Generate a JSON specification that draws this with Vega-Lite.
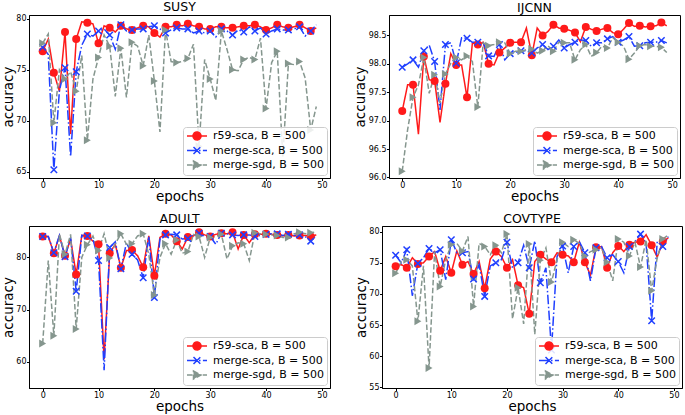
{
"$schema":"https://vega.github.io/schema/vega-lite/v6.json",
"padding":{"left":0,"top":0,"right":0,"bottom":0},
"background":"white",
"config":{"font":"DejaVu Sans","view":{"stroke":"#000","strokeWidth":1},
"axis":{"labelFont":"DejaVu Sans","titleFont":"DejaVu Sans","labelFontSize":8,"titleFontSize":13.5,"titleFontWeight":"normal","labelColor":"#000","titleColor":"#000","tickColor":"#000","domainColor":"#000","tickSize":2.5,"labelPadding":0.5,"titlePadding":0.5,"grid":false},
"title":{"font":"DejaVu Sans","fontSize":12.5,"fontWeight":"normal","offset":1,"color":"#000"},
"legend":{"title":null,"orient":"bottom-right","offset":3,"padding":3,"fillColor":"rgba(255,255,255,0.85)","strokeColor":"#cccccc","cornerRadius":3,"labelFont":"DejaVu Sans","labelFontSize":11,"labelColor":"#000","symbolSize":100,"symbolStrokeWidth":1.5,"rowPadding":0.5,"labelOffset":15}},
"datasets":{
"SUSY":[
{"series":"r59-sca","epoch":0,"acc":76.8},{"series":"r59-sca","epoch":1,"acc":78.0},{"series":"r59-sca","epoch":2,"acc":74.7},{"series":"r59-sca","epoch":3,"acc":72.9},{"series":"r59-sca","epoch":4,"acc":78.7},{"series":"r59-sca","epoch":5,"acc":68.7},{"series":"r59-sca","epoch":6,"acc":78.0},{"series":"r59-sca","epoch":7,"acc":79.7},{"series":"r59-sca","epoch":8,"acc":79.6},{"series":"r59-sca","epoch":9,"acc":79.5},
{"series":"r59-sca","epoch":10,"acc":77.6},{"series":"r59-sca","epoch":11,"acc":79.3},{"series":"r59-sca","epoch":12,"acc":79.1},{"series":"r59-sca","epoch":13,"acc":78.7},{"series":"r59-sca","epoch":14,"acc":79.3},{"series":"r59-sca","epoch":15,"acc":79.0},{"series":"r59-sca","epoch":16,"acc":78.9},{"series":"r59-sca","epoch":17,"acc":79.1},{"series":"r59-sca","epoch":18,"acc":79.3},{"series":"r59-sca","epoch":19,"acc":79.2},
{"series":"r59-sca","epoch":20,"acc":78.6},{"series":"r59-sca","epoch":21,"acc":78.2},{"series":"r59-sca","epoch":22,"acc":79.2},{"series":"r59-sca","epoch":23,"acc":79.2},{"series":"r59-sca","epoch":24,"acc":79.4},{"series":"r59-sca","epoch":25,"acc":79.3},{"series":"r59-sca","epoch":26,"acc":79.5},{"series":"r59-sca","epoch":27,"acc":79.3},{"series":"r59-sca","epoch":28,"acc":79.2},{"series":"r59-sca","epoch":29,"acc":79.0},
{"series":"r59-sca","epoch":30,"acc":79.0},{"series":"r59-sca","epoch":31,"acc":79.2},{"series":"r59-sca","epoch":32,"acc":79.2},{"series":"r59-sca","epoch":33,"acc":79.1},{"series":"r59-sca","epoch":34,"acc":79.1},{"series":"r59-sca","epoch":35,"acc":79.2},{"series":"r59-sca","epoch":36,"acc":79.3},{"series":"r59-sca","epoch":37,"acc":79.3},{"series":"r59-sca","epoch":38,"acc":79.4},{"series":"r59-sca","epoch":39,"acc":79.2},
{"series":"r59-sca","epoch":40,"acc":78.9},{"series":"r59-sca","epoch":41,"acc":79.1},{"series":"r59-sca","epoch":42,"acc":79.4},{"series":"r59-sca","epoch":43,"acc":79.2},{"series":"r59-sca","epoch":44,"acc":79.1},{"series":"r59-sca","epoch":45,"acc":79.2},{"series":"r59-sca","epoch":46,"acc":79.4},{"series":"r59-sca","epoch":47,"acc":79.1},{"series":"r59-sca","epoch":48,"acc":78.8},{"series":"r59-sca","epoch":49,"acc":79.1},
{"series":"merge-sca","epoch":0,"acc":77.2},{"series":"merge-sca","epoch":1,"acc":76.5},{"series":"merge-sca","epoch":2,"acc":65.2},{"series":"merge-sca","epoch":3,"acc":73.0},{"series":"merge-sca","epoch":4,"acc":75.2},{"series":"merge-sca","epoch":5,"acc":66.5},{"series":"merge-sca","epoch":6,"acc":74.8},{"series":"merge-sca","epoch":7,"acc":77.4},{"series":"merge-sca","epoch":8,"acc":78.5},{"series":"merge-sca","epoch":9,"acc":78.3},
{"series":"merge-sca","epoch":10,"acc":78.8},{"series":"merge-sca","epoch":11,"acc":79.0},{"series":"merge-sca","epoch":12,"acc":78.4},{"series":"merge-sca","epoch":13,"acc":77.0},{"series":"merge-sca","epoch":14,"acc":79.4},{"series":"merge-sca","epoch":15,"acc":78.8},{"series":"merge-sca","epoch":16,"acc":78.9},{"series":"merge-sca","epoch":17,"acc":79.0},{"series":"merge-sca","epoch":18,"acc":79.0},{"series":"merge-sca","epoch":19,"acc":79.2},
{"series":"merge-sca","epoch":20,"acc":79.3},{"series":"merge-sca","epoch":21,"acc":79.0},{"series":"merge-sca","epoch":22,"acc":78.6},{"series":"merge-sca","epoch":23,"acc":78.9},{"series":"merge-sca","epoch":24,"acc":79.1},{"series":"merge-sca","epoch":25,"acc":79.0},{"series":"merge-sca","epoch":26,"acc":79.0},{"series":"merge-sca","epoch":27,"acc":78.6},{"series":"merge-sca","epoch":28,"acc":78.8},{"series":"merge-sca","epoch":29,"acc":78.6},
{"series":"merge-sca","epoch":30,"acc":78.8},{"series":"merge-sca","epoch":31,"acc":78.2},{"series":"merge-sca","epoch":32,"acc":79.0},{"series":"merge-sca","epoch":33,"acc":78.8},{"series":"merge-sca","epoch":34,"acc":78.4},{"series":"merge-sca","epoch":35,"acc":78.9},{"series":"merge-sca","epoch":36,"acc":78.7},{"series":"merge-sca","epoch":37,"acc":79.2},{"series":"merge-sca","epoch":38,"acc":78.8},{"series":"merge-sca","epoch":39,"acc":79.1},
{"series":"merge-sca","epoch":40,"acc":78.5},{"series":"merge-sca","epoch":41,"acc":78.8},{"series":"merge-sca","epoch":42,"acc":79.0},{"series":"merge-sca","epoch":43,"acc":78.9},{"series":"merge-sca","epoch":44,"acc":78.9},{"series":"merge-sca","epoch":45,"acc":79.0},{"series":"merge-sca","epoch":46,"acc":79.2},{"series":"merge-sca","epoch":47,"acc":78.3},{"series":"merge-sca","epoch":48,"acc":78.8},{"series":"merge-sca","epoch":49,"acc":79.4},
{"series":"merge-sgd","epoch":0,"acc":77.6},{"series":"merge-sgd","epoch":1,"acc":78.5},{"series":"merge-sgd","epoch":2,"acc":69.8},{"series":"merge-sgd","epoch":3,"acc":75.0},{"series":"merge-sgd","epoch":4,"acc":74.1},{"series":"merge-sgd","epoch":5,"acc":74.8},{"series":"merge-sgd","epoch":6,"acc":72.9},{"series":"merge-sgd","epoch":7,"acc":76.4},{"series":"merge-sgd","epoch":8,"acc":68.1},{"series":"merge-sgd","epoch":9,"acc":74.1},
{"series":"merge-sgd","epoch":10,"acc":76.2},{"series":"merge-sgd","epoch":11,"acc":78.4},{"series":"merge-sgd","epoch":12,"acc":77.3},{"series":"merge-sgd","epoch":13,"acc":72.4},{"series":"merge-sgd","epoch":14,"acc":77.1},{"series":"merge-sgd","epoch":15,"acc":72.3},{"series":"merge-sgd","epoch":16,"acc":77.7},{"series":"merge-sgd","epoch":17,"acc":77.3},{"series":"merge-sgd","epoch":18,"acc":75.4},{"series":"merge-sgd","epoch":19,"acc":78.4},
{"series":"merge-sgd","epoch":20,"acc":73.9},{"series":"merge-sgd","epoch":21,"acc":68.9},{"series":"merge-sgd","epoch":22,"acc":78.9},{"series":"merge-sgd","epoch":23,"acc":75.8},{"series":"merge-sgd","epoch":24,"acc":75.7},{"series":"merge-sgd","epoch":25,"acc":75.8},{"series":"merge-sgd","epoch":26,"acc":76.1},{"series":"merge-sgd","epoch":27,"acc":77.5},{"series":"merge-sgd","epoch":28,"acc":67.5},{"series":"merge-sgd","epoch":29,"acc":76.0},
{"series":"merge-sgd","epoch":30,"acc":74.1},{"series":"merge-sgd","epoch":31,"acc":72.0},{"series":"merge-sgd","epoch":32,"acc":78.8},{"series":"merge-sgd","epoch":33,"acc":77.0},{"series":"merge-sgd","epoch":34,"acc":75.0},{"series":"merge-sgd","epoch":35,"acc":74.9},{"series":"merge-sgd","epoch":36,"acc":76.0},{"series":"merge-sgd","epoch":37,"acc":76.2},{"series":"merge-sgd","epoch":38,"acc":76.0},{"series":"merge-sgd","epoch":39,"acc":78.1},
{"series":"merge-sgd","epoch":40,"acc":71.2},{"series":"merge-sgd","epoch":41,"acc":75.7},{"series":"merge-sgd","epoch":42,"acc":76.8},{"series":"merge-sgd","epoch":43,"acc":66.5},{"series":"merge-sgd","epoch":44,"acc":75.6},{"series":"merge-sgd","epoch":45,"acc":75.5},{"series":"merge-sgd","epoch":46,"acc":75.8},{"series":"merge-sgd","epoch":47,"acc":74.2},{"series":"merge-sgd","epoch":48,"acc":69.1},{"series":"merge-sgd","epoch":49,"acc":71.4}
],
"IJCNN":[
{"series":"r59-sca","epoch":0,"acc":97.17},{"series":"r59-sca","epoch":1,"acc":97.63},{"series":"r59-sca","epoch":2,"acc":97.63},{"series":"r59-sca","epoch":3,"acc":96.76},{"series":"r59-sca","epoch":4,"acc":98.13},{"series":"r59-sca","epoch":5,"acc":97.72},{"series":"r59-sca","epoch":6,"acc":97.7},{"series":"r59-sca","epoch":7,"acc":96.97},{"series":"r59-sca","epoch":8,"acc":97.65},{"series":"r59-sca","epoch":9,"acc":98.18},
{"series":"r59-sca","epoch":10,"acc":97.98},{"series":"r59-sca","epoch":11,"acc":97.98},{"series":"r59-sca","epoch":12,"acc":97.41},{"series":"r59-sca","epoch":13,"acc":98.37},{"series":"r59-sca","epoch":14,"acc":98.34},{"series":"r59-sca","epoch":15,"acc":98.38},{"series":"r59-sca","epoch":16,"acc":98.0},{"series":"r59-sca","epoch":17,"acc":97.98},{"series":"r59-sca","epoch":18,"acc":98.2},{"series":"r59-sca","epoch":19,"acc":98.28},
{"series":"r59-sca","epoch":20,"acc":98.37},{"series":"r59-sca","epoch":21,"acc":98.38},{"series":"r59-sca","epoch":22,"acc":98.38},{"series":"r59-sca","epoch":23,"acc":98.63},{"series":"r59-sca","epoch":24,"acc":98.15},{"series":"r59-sca","epoch":25,"acc":98.63},{"series":"r59-sca","epoch":26,"acc":98.5},{"series":"r59-sca","epoch":27,"acc":98.57},{"series":"r59-sca","epoch":28,"acc":98.69},{"series":"r59-sca","epoch":29,"acc":98.63},
{"series":"r59-sca","epoch":30,"acc":98.62},{"series":"r59-sca","epoch":31,"acc":98.59},{"series":"r59-sca","epoch":32,"acc":98.55},{"series":"r59-sca","epoch":33,"acc":98.39},{"series":"r59-sca","epoch":34,"acc":98.65},{"series":"r59-sca","epoch":35,"acc":98.61},{"series":"r59-sca","epoch":36,"acc":98.58},{"series":"r59-sca","epoch":37,"acc":98.61},{"series":"r59-sca","epoch":38,"acc":98.63},{"series":"r59-sca","epoch":39,"acc":98.55},
{"series":"r59-sca","epoch":40,"acc":98.52},{"series":"r59-sca","epoch":41,"acc":98.61},{"series":"r59-sca","epoch":42,"acc":98.72},{"series":"r59-sca","epoch":43,"acc":98.66},{"series":"r59-sca","epoch":44,"acc":98.67},{"series":"r59-sca","epoch":45,"acc":98.65},{"series":"r59-sca","epoch":46,"acc":98.66},{"series":"r59-sca","epoch":47,"acc":98.67},{"series":"r59-sca","epoch":48,"acc":98.73},{"series":"r59-sca","epoch":49,"acc":98.67},
{"series":"merge-sca","epoch":0,"acc":97.94},{"series":"merge-sca","epoch":1,"acc":98.0},{"series":"merge-sca","epoch":2,"acc":98.07},{"series":"merge-sca","epoch":3,"acc":97.94},{"series":"merge-sca","epoch":4,"acc":98.23},{"series":"merge-sca","epoch":5,"acc":98.33},{"series":"merge-sca","epoch":6,"acc":98.04},{"series":"merge-sca","epoch":7,"acc":97.19},{"series":"merge-sca","epoch":8,"acc":98.34},{"series":"merge-sca","epoch":9,"acc":98.37},
{"series":"merge-sca","epoch":10,"acc":98.01},{"series":"merge-sca","epoch":11,"acc":98.46},{"series":"merge-sca","epoch":12,"acc":98.45},{"series":"merge-sca","epoch":13,"acc":98.38},{"series":"merge-sca","epoch":14,"acc":98.38},{"series":"merge-sca","epoch":15,"acc":98.37},{"series":"merge-sca","epoch":16,"acc":98.14},{"series":"merge-sca","epoch":17,"acc":98.13},{"series":"merge-sca","epoch":18,"acc":98.34},{"series":"merge-sca","epoch":19,"acc":98.07},
{"series":"merge-sca","epoch":20,"acc":98.18},{"series":"merge-sca","epoch":21,"acc":98.2},{"series":"merge-sca","epoch":22,"acc":98.23},{"series":"merge-sca","epoch":23,"acc":98.23},{"series":"merge-sca","epoch":24,"acc":98.19},{"series":"merge-sca","epoch":25,"acc":98.28},{"series":"merge-sca","epoch":26,"acc":98.34},{"series":"merge-sca","epoch":27,"acc":98.25},{"series":"merge-sca","epoch":28,"acc":98.31},{"series":"merge-sca","epoch":29,"acc":98.42},
{"series":"merge-sca","epoch":30,"acc":98.28},{"series":"merge-sca","epoch":31,"acc":98.34},{"series":"merge-sca","epoch":32,"acc":98.38},{"series":"merge-sca","epoch":33,"acc":98.42},{"series":"merge-sca","epoch":34,"acc":98.41},{"series":"merge-sca","epoch":35,"acc":98.31},{"series":"merge-sca","epoch":36,"acc":98.37},{"series":"merge-sca","epoch":37,"acc":98.37},{"series":"merge-sca","epoch":38,"acc":98.44},{"series":"merge-sca","epoch":39,"acc":98.48},
{"series":"merge-sca","epoch":40,"acc":98.38},{"series":"merge-sca","epoch":41,"acc":98.42},{"series":"merge-sca","epoch":42,"acc":98.48},{"series":"merge-sca","epoch":43,"acc":98.31},{"series":"merge-sca","epoch":44,"acc":98.32},{"series":"merge-sca","epoch":45,"acc":98.37},{"series":"merge-sca","epoch":46,"acc":98.38},{"series":"merge-sca","epoch":47,"acc":98.38},{"series":"merge-sca","epoch":48,"acc":98.41},{"series":"merge-sca","epoch":49,"acc":98.37},
{"series":"merge-sgd","epoch":0,"acc":96.11},{"series":"merge-sgd","epoch":1,"acc":96.84},{"series":"merge-sgd","epoch":2,"acc":97.41},{"series":"merge-sgd","epoch":3,"acc":97.63},{"series":"merge-sgd","epoch":4,"acc":98.11},{"series":"merge-sgd","epoch":5,"acc":97.48},{"series":"merge-sgd","epoch":6,"acc":97.81},{"series":"merge-sgd","epoch":7,"acc":97.31},{"series":"merge-sgd","epoch":8,"acc":97.82},{"series":"merge-sgd","epoch":9,"acc":98.01},
{"series":"merge-sgd","epoch":10,"acc":98.11},{"series":"merge-sgd","epoch":11,"acc":98.07},{"series":"merge-sgd","epoch":12,"acc":98.14},{"series":"merge-sgd","epoch":13,"acc":98.04},{"series":"merge-sgd","epoch":14,"acc":97.24},{"series":"merge-sgd","epoch":15,"acc":98.37},{"series":"merge-sgd","epoch":16,"acc":98.32},{"series":"merge-sgd","epoch":17,"acc":98.34},{"series":"merge-sgd","epoch":18,"acc":98.38},{"series":"merge-sgd","epoch":19,"acc":98.37},
{"series":"merge-sgd","epoch":20,"acc":98.18},{"series":"merge-sgd","epoch":21,"acc":98.22},{"series":"merge-sgd","epoch":22,"acc":98.22},{"series":"merge-sgd","epoch":23,"acc":98.25},{"series":"merge-sgd","epoch":24,"acc":98.26},{"series":"merge-sgd","epoch":25,"acc":98.19},{"series":"merge-sgd","epoch":26,"acc":98.23},{"series":"merge-sgd","epoch":27,"acc":98.32},{"series":"merge-sgd","epoch":28,"acc":98.22},{"series":"merge-sgd","epoch":29,"acc":98.38},
{"series":"merge-sgd","epoch":30,"acc":98.37},{"series":"merge-sgd","epoch":31,"acc":98.37},{"series":"merge-sgd","epoch":32,"acc":98.07},{"series":"merge-sgd","epoch":33,"acc":98.25},{"series":"merge-sgd","epoch":34,"acc":98.34},{"series":"merge-sgd","epoch":35,"acc":98.13},{"series":"merge-sgd","epoch":36,"acc":98.2},{"series":"merge-sgd","epoch":37,"acc":98.31},{"series":"merge-sgd","epoch":38,"acc":98.28},{"series":"merge-sgd","epoch":39,"acc":98.46},
{"series":"merge-sgd","epoch":40,"acc":98.38},{"series":"merge-sgd","epoch":41,"acc":98.31},{"series":"merge-sgd","epoch":42,"acc":98.08},{"series":"merge-sgd","epoch":43,"acc":98.19},{"series":"merge-sgd","epoch":44,"acc":98.32},{"series":"merge-sgd","epoch":45,"acc":98.34},{"series":"merge-sgd","epoch":46,"acc":98.31},{"series":"merge-sgd","epoch":47,"acc":98.31},{"series":"merge-sgd","epoch":48,"acc":98.29},{"series":"merge-sgd","epoch":49,"acc":98.2}
],
"ADULT":[
{"series":"r59-sca","epoch":0,"acc":84.0},{"series":"r59-sca","epoch":1,"acc":84.0},{"series":"r59-sca","epoch":2,"acc":80.8},{"series":"r59-sca","epoch":3,"acc":84.1},{"series":"r59-sca","epoch":4,"acc":80.3},{"series":"r59-sca","epoch":5,"acc":83.5},{"series":"r59-sca","epoch":6,"acc":76.7},{"series":"r59-sca","epoch":7,"acc":84.2},{"series":"r59-sca","epoch":8,"acc":84.1},{"series":"r59-sca","epoch":9,"acc":83.1},
{"series":"r59-sca","epoch":10,"acc":82.5},{"series":"r59-sca","epoch":11,"acc":60.5},{"series":"r59-sca","epoch":12,"acc":80.8},{"series":"r59-sca","epoch":13,"acc":82.5},{"series":"r59-sca","epoch":14,"acc":78.0},{"series":"r59-sca","epoch":15,"acc":81.3},{"series":"r59-sca","epoch":16,"acc":81.4},{"series":"r59-sca","epoch":17,"acc":80.3},{"series":"r59-sca","epoch":18,"acc":78.1},{"series":"r59-sca","epoch":19,"acc":84.1},
{"series":"r59-sca","epoch":20,"acc":76.5},{"series":"r59-sca","epoch":21,"acc":83.8},{"series":"r59-sca","epoch":22,"acc":84.5},{"series":"r59-sca","epoch":23,"acc":84.3},{"series":"r59-sca","epoch":24,"acc":83.1},{"series":"r59-sca","epoch":25,"acc":81.6},{"series":"r59-sca","epoch":26,"acc":83.9},{"series":"r59-sca","epoch":27,"acc":84.1},{"series":"r59-sca","epoch":28,"acc":84.8},{"series":"r59-sca","epoch":29,"acc":84.3},
{"series":"r59-sca","epoch":30,"acc":84.0},{"series":"r59-sca","epoch":31,"acc":84.4},{"series":"r59-sca","epoch":32,"acc":84.6},{"series":"r59-sca","epoch":33,"acc":84.5},{"series":"r59-sca","epoch":34,"acc":84.8},{"series":"r59-sca","epoch":35,"acc":81.6},{"series":"r59-sca","epoch":36,"acc":84.3},{"series":"r59-sca","epoch":37,"acc":82.8},{"series":"r59-sca","epoch":38,"acc":84.4},{"series":"r59-sca","epoch":39,"acc":84.4},
{"series":"r59-sca","epoch":40,"acc":84.5},{"series":"r59-sca","epoch":41,"acc":84.4},{"series":"r59-sca","epoch":42,"acc":84.3},{"series":"r59-sca","epoch":43,"acc":84.1},{"series":"r59-sca","epoch":44,"acc":84.3},{"series":"r59-sca","epoch":45,"acc":84.1},{"series":"r59-sca","epoch":46,"acc":84.2},{"series":"r59-sca","epoch":47,"acc":84.2},{"series":"r59-sca","epoch":48,"acc":84.0},{"series":"r59-sca","epoch":49,"acc":84.3},
{"series":"merge-sca","epoch":0,"acc":84.0},{"series":"merge-sca","epoch":1,"acc":84.0},{"series":"merge-sca","epoch":2,"acc":80.9},{"series":"merge-sca","epoch":3,"acc":84.2},{"series":"merge-sca","epoch":4,"acc":80.1},{"series":"merge-sca","epoch":5,"acc":83.8},{"series":"merge-sca","epoch":6,"acc":73.5},{"series":"merge-sca","epoch":7,"acc":84.2},{"series":"merge-sca","epoch":8,"acc":84.1},{"series":"merge-sca","epoch":9,"acc":83.5},
{"series":"merge-sca","epoch":10,"acc":79.4},{"series":"merge-sca","epoch":11,"acc":58.4},{"series":"merge-sca","epoch":12,"acc":81.9},{"series":"merge-sca","epoch":13,"acc":83.0},{"series":"merge-sca","epoch":14,"acc":77.8},{"series":"merge-sca","epoch":15,"acc":82.8},{"series":"merge-sca","epoch":16,"acc":80.6},{"series":"merge-sca","epoch":17,"acc":79.5},{"series":"merge-sca","epoch":18,"acc":76.1},{"series":"merge-sca","epoch":19,"acc":84.0},
{"series":"merge-sca","epoch":20,"acc":72.3},{"series":"merge-sca","epoch":21,"acc":83.5},{"series":"merge-sca","epoch":22,"acc":84.3},{"series":"merge-sca","epoch":23,"acc":84.4},{"series":"merge-sca","epoch":24,"acc":84.3},{"series":"merge-sca","epoch":25,"acc":83.5},{"series":"merge-sca","epoch":26,"acc":83.6},{"series":"merge-sca","epoch":27,"acc":84.3},{"series":"merge-sca","epoch":28,"acc":84.6},{"series":"merge-sca","epoch":29,"acc":84.0},
{"series":"merge-sca","epoch":30,"acc":84.0},{"series":"merge-sca","epoch":31,"acc":82.5},{"series":"merge-sca","epoch":32,"acc":84.6},{"series":"merge-sca","epoch":33,"acc":84.5},{"series":"merge-sca","epoch":34,"acc":84.3},{"series":"merge-sca","epoch":35,"acc":84.2},{"series":"merge-sca","epoch":36,"acc":84.3},{"series":"merge-sca","epoch":37,"acc":84.3},{"series":"merge-sca","epoch":38,"acc":84.0},{"series":"merge-sca","epoch":39,"acc":84.2},
{"series":"merge-sca","epoch":40,"acc":84.4},{"series":"merge-sca","epoch":41,"acc":84.5},{"series":"merge-sca","epoch":42,"acc":84.5},{"series":"merge-sca","epoch":43,"acc":84.2},{"series":"merge-sca","epoch":44,"acc":84.4},{"series":"merge-sca","epoch":45,"acc":84.2},{"series":"merge-sca","epoch":46,"acc":84.3},{"series":"merge-sca","epoch":47,"acc":84.0},{"series":"merge-sca","epoch":48,"acc":83.1},{"series":"merge-sca","epoch":49,"acc":84.3},
{"series":"merge-sgd","epoch":0,"acc":63.5},{"series":"merge-sgd","epoch":1,"acc":79.4},{"series":"merge-sgd","epoch":2,"acc":65.0},{"series":"merge-sgd","epoch":3,"acc":84.4},{"series":"merge-sgd","epoch":4,"acc":80.6},{"series":"merge-sgd","epoch":5,"acc":84.4},{"series":"merge-sgd","epoch":6,"acc":66.3},{"series":"merge-sgd","epoch":7,"acc":80.0},{"series":"merge-sgd","epoch":8,"acc":82.4},{"series":"merge-sgd","epoch":9,"acc":84.1},
{"series":"merge-sgd","epoch":10,"acc":81.3},{"series":"merge-sgd","epoch":11,"acc":84.5},{"series":"merge-sgd","epoch":12,"acc":79.9},{"series":"merge-sgd","epoch":13,"acc":82.6},{"series":"merge-sgd","epoch":14,"acc":84.5},{"series":"merge-sgd","epoch":15,"acc":82.5},{"series":"merge-sgd","epoch":16,"acc":82.6},{"series":"merge-sgd","epoch":17,"acc":84.1},{"series":"merge-sgd","epoch":18,"acc":84.5},{"series":"merge-sgd","epoch":19,"acc":80.6},
{"series":"merge-sgd","epoch":20,"acc":72.8},{"series":"merge-sgd","epoch":21,"acc":80.0},{"series":"merge-sgd","epoch":22,"acc":82.6},{"series":"merge-sgd","epoch":23,"acc":80.6},{"series":"merge-sgd","epoch":24,"acc":83.3},{"series":"merge-sgd","epoch":25,"acc":80.8},{"series":"merge-sgd","epoch":26,"acc":81.1},{"series":"merge-sgd","epoch":27,"acc":84.4},{"series":"merge-sgd","epoch":28,"acc":84.0},{"series":"merge-sgd","epoch":29,"acc":80.0},
{"series":"merge-sgd","epoch":30,"acc":83.8},{"series":"merge-sgd","epoch":31,"acc":84.0},{"series":"merge-sgd","epoch":32,"acc":84.4},{"series":"merge-sgd","epoch":33,"acc":79.7},{"series":"merge-sgd","epoch":34,"acc":82.2},{"series":"merge-sgd","epoch":35,"acc":82.8},{"series":"merge-sgd","epoch":36,"acc":82.6},{"series":"merge-sgd","epoch":37,"acc":79.4},{"series":"merge-sgd","epoch":38,"acc":84.7},{"series":"merge-sgd","epoch":39,"acc":84.5},
{"series":"merge-sgd","epoch":40,"acc":84.4},{"series":"merge-sgd","epoch":41,"acc":84.3},{"series":"merge-sgd","epoch":42,"acc":84.2},{"series":"merge-sgd","epoch":43,"acc":83.8},{"series":"merge-sgd","epoch":44,"acc":83.8},{"series":"merge-sgd","epoch":45,"acc":84.5},{"series":"merge-sgd","epoch":46,"acc":84.8},{"series":"merge-sgd","epoch":47,"acc":84.5},{"series":"merge-sgd","epoch":48,"acc":84.7},{"series":"merge-sgd","epoch":49,"acc":84.9}
],
"COVTYPE":[
{"series":"r59-sca","epoch":0,"acc":74.45},{"series":"r59-sca","epoch":1,"acc":74.7},{"series":"r59-sca","epoch":2,"acc":74.2},{"series":"r59-sca","epoch":3,"acc":75.8},{"series":"r59-sca","epoch":4,"acc":74.8},{"series":"r59-sca","epoch":5,"acc":75.0},{"series":"r59-sca","epoch":6,"acc":76.0},{"series":"r59-sca","epoch":7,"acc":76.8},{"series":"r59-sca","epoch":8,"acc":73.7},{"series":"r59-sca","epoch":9,"acc":76.0},
{"series":"r59-sca","epoch":10,"acc":73.4},{"series":"r59-sca","epoch":11,"acc":76.9},{"series":"r59-sca","epoch":12,"acc":74.7},{"series":"r59-sca","epoch":13,"acc":75.2},{"series":"r59-sca","epoch":14,"acc":73.2},{"series":"r59-sca","epoch":15,"acc":75.2},{"series":"r59-sca","epoch":16,"acc":70.9},{"series":"r59-sca","epoch":17,"acc":75.6},{"series":"r59-sca","epoch":18,"acc":76.8},{"series":"r59-sca","epoch":19,"acc":76.0},
{"series":"r59-sca","epoch":20,"acc":74.2},{"series":"r59-sca","epoch":21,"acc":75.5},{"series":"r59-sca","epoch":22,"acc":71.4},{"series":"r59-sca","epoch":23,"acc":71.0},{"series":"r59-sca","epoch":24,"acc":66.8},{"series":"r59-sca","epoch":25,"acc":75.2},{"series":"r59-sca","epoch":26,"acc":76.3},{"series":"r59-sca","epoch":27,"acc":75.6},{"series":"r59-sca","epoch":28,"acc":75.1},{"series":"r59-sca","epoch":29,"acc":76.6},
{"series":"r59-sca","epoch":30,"acc":76.3},{"series":"r59-sca","epoch":31,"acc":76.1},{"series":"r59-sca","epoch":32,"acc":75.1},{"series":"r59-sca","epoch":33,"acc":78.3},{"series":"r59-sca","epoch":34,"acc":75.1},{"series":"r59-sca","epoch":35,"acc":73.0},{"series":"r59-sca","epoch":36,"acc":77.5},{"series":"r59-sca","epoch":37,"acc":77.6},{"series":"r59-sca","epoch":38,"acc":74.2},{"series":"r59-sca","epoch":39,"acc":76.6},
{"series":"r59-sca","epoch":40,"acc":77.7},{"series":"r59-sca","epoch":41,"acc":76.8},{"series":"r59-sca","epoch":42,"acc":77.9},{"series":"r59-sca","epoch":43,"acc":78.3},{"series":"r59-sca","epoch":44,"acc":78.4},{"series":"r59-sca","epoch":45,"acc":79.5},{"series":"r59-sca","epoch":46,"acc":77.8},{"series":"r59-sca","epoch":47,"acc":75.9},{"series":"r59-sca","epoch":48,"acc":78.4},{"series":"r59-sca","epoch":49,"acc":79.0},
{"series":"merge-sca","epoch":0,"acc":76.2},{"series":"merge-sca","epoch":1,"acc":75.0},{"series":"merge-sca","epoch":2,"acc":77.1},{"series":"merge-sca","epoch":3,"acc":69.7},{"series":"merge-sca","epoch":4,"acc":74.9},{"series":"merge-sca","epoch":5,"acc":75.8},{"series":"merge-sca","epoch":6,"acc":77.3},{"series":"merge-sca","epoch":7,"acc":76.6},{"series":"merge-sca","epoch":8,"acc":77.1},{"series":"merge-sca","epoch":9,"acc":72.3},
{"series":"merge-sca","epoch":10,"acc":78.7},{"series":"merge-sca","epoch":11,"acc":76.6},{"series":"merge-sca","epoch":12,"acc":76.6},{"series":"merge-sca","epoch":13,"acc":76.8},{"series":"merge-sca","epoch":14,"acc":72.4},{"series":"merge-sca","epoch":15,"acc":74.7},{"series":"merge-sca","epoch":16,"acc":69.6},{"series":"merge-sca","epoch":17,"acc":74.5},{"series":"merge-sca","epoch":18,"acc":75.0},{"series":"merge-sca","epoch":19,"acc":75.5},
{"series":"merge-sca","epoch":20,"acc":78.3},{"series":"merge-sca","epoch":21,"acc":74.2},{"series":"merge-sca","epoch":22,"acc":75.0},{"series":"merge-sca","epoch":23,"acc":77.8},{"series":"merge-sca","epoch":24,"acc":74.2},{"series":"merge-sca","epoch":25,"acc":78.5},{"series":"merge-sca","epoch":26,"acc":71.8},{"series":"merge-sca","epoch":27,"acc":74.2},{"series":"merge-sca","epoch":28,"acc":61.0},{"series":"merge-sca","epoch":29,"acc":76.0},
{"series":"merge-sca","epoch":30,"acc":77.7},{"series":"merge-sca","epoch":31,"acc":73.4},{"series":"merge-sca","epoch":32,"acc":77.6},{"series":"merge-sca","epoch":33,"acc":78.4},{"series":"merge-sca","epoch":34,"acc":76.6},{"series":"merge-sca","epoch":35,"acc":72.1},{"series":"merge-sca","epoch":36,"acc":77.4},{"series":"merge-sca","epoch":37,"acc":77.6},{"series":"merge-sca","epoch":38,"acc":75.8},{"series":"merge-sca","epoch":39,"acc":76.3},
{"series":"merge-sca","epoch":40,"acc":75.2},{"series":"merge-sca","epoch":41,"acc":73.4},{"series":"merge-sca","epoch":42,"acc":77.6},{"series":"merge-sca","epoch":43,"acc":78.4},{"series":"merge-sca","epoch":44,"acc":79.6},{"series":"merge-sca","epoch":45,"acc":78.1},{"series":"merge-sca","epoch":46,"acc":65.7},{"series":"merge-sca","epoch":47,"acc":78.4},{"series":"merge-sca","epoch":48,"acc":77.6},{"series":"merge-sca","epoch":49,"acc":79.2},
{"series":"merge-sgd","epoch":0,"acc":73.3},{"series":"merge-sgd","epoch":1,"acc":75.2},{"series":"merge-sgd","epoch":2,"acc":75.5},{"series":"merge-sgd","epoch":3,"acc":74.5},{"series":"merge-sgd","epoch":4,"acc":65.6},{"series":"merge-sgd","epoch":5,"acc":74.5},{"series":"merge-sgd","epoch":6,"acc":58.1},{"series":"merge-sgd","epoch":7,"acc":76.8},{"series":"merge-sgd","epoch":8,"acc":71.2},{"series":"merge-sgd","epoch":9,"acc":75.5},
{"series":"merge-sgd","epoch":10,"acc":77.9},{"series":"merge-sgd","epoch":11,"acc":78.1},{"series":"merge-sgd","epoch":12,"acc":76.9},{"series":"merge-sgd","epoch":13,"acc":79.2},{"series":"merge-sgd","epoch":14,"acc":68.0},{"series":"merge-sgd","epoch":15,"acc":78.1},{"series":"merge-sgd","epoch":16,"acc":77.6},{"series":"merge-sgd","epoch":17,"acc":76.3},{"series":"merge-sgd","epoch":18,"acc":77.8},{"series":"merge-sgd","epoch":19,"acc":76.6},
{"series":"merge-sgd","epoch":20,"acc":79.6},{"series":"merge-sgd","epoch":21,"acc":66.0},{"series":"merge-sgd","epoch":22,"acc":71.0},{"series":"merge-sgd","epoch":23,"acc":65.2},{"series":"merge-sgd","epoch":24,"acc":78.0},{"series":"merge-sgd","epoch":25,"acc":63.5},{"series":"merge-sgd","epoch":26,"acc":75.4},{"series":"merge-sgd","epoch":27,"acc":77.4},{"series":"merge-sgd","epoch":28,"acc":71.9},{"series":"merge-sgd","epoch":29,"acc":75.5},
{"series":"merge-sgd","epoch":30,"acc":78.3},{"series":"merge-sgd","epoch":31,"acc":77.6},{"series":"merge-sgd","epoch":32,"acc":78.7},{"series":"merge-sgd","epoch":33,"acc":78.1},{"series":"merge-sgd","epoch":34,"acc":76.1},{"series":"merge-sgd","epoch":35,"acc":76.8},{"series":"merge-sgd","epoch":36,"acc":77.1},{"series":"merge-sgd","epoch":37,"acc":77.4},{"series":"merge-sgd","epoch":38,"acc":75.1},{"series":"merge-sgd","epoch":39,"acc":72.1},
{"series":"merge-sgd","epoch":40,"acc":78.8},{"series":"merge-sgd","epoch":41,"acc":78.3},{"series":"merge-sgd","epoch":42,"acc":76.1},{"series":"merge-sgd","epoch":43,"acc":78.3},{"series":"merge-sgd","epoch":44,"acc":74.3},{"series":"merge-sgd","epoch":45,"acc":78.7},{"series":"merge-sgd","epoch":46,"acc":70.5},{"series":"merge-sgd","epoch":47,"acc":75.8},{"series":"merge-sgd","epoch":48,"acc":78.8},{"series":"merge-sgd","epoch":49,"acc":79.5}
]
},
"columns":2,
"align":"none",
"spacing":{"row":8,"column":22},
"resolve":{"scale":{"color":"independent","strokeDash":"independent"},"legend":{"color":"independent","strokeDash":"independent"}},
"concat":[
{"title":"SUSY","width":301,"height":163,"data":{"name":"SUSY"},
"encoding":{
"x":{"field":"epoch","type":"quantitative","scale":{"domain":[-2.45,51.45],"nice":false,"zero":false},"axis":{"values":[0,10,20,30,40,50],"title":"epochs"}},
"y":{"field":"acc","type":"quantitative","scale":{"domain":[64.4,80.36],"nice":false,"zero":false},"axis":{"values":[65,70,75,80],"title":"accuracy"}}},
"layer":[
{"mark":{"type":"line","strokeWidth":1.5,"clip":true},"encoding":{
"color":{"field":"series","type":"nominal","scale":{"domain":["r59-sca","merge-sca","merge-sgd"],"range":["#ff1a1a","#1f3fff","#85968e"]},"legend":{"labelExpr":"datum.label + ', B = 500'","symbolType":{"expr":"datum.value == 'r59-sca' ? 'M-1,0L3,0M1.8,0A0.8,0.8,0,1,1,0.2,0A0.8,0.8,0,1,1,1.8,0Z' : datum.value == 'merge-sca' ? 'M-1,0L3,0M0.3,-0.7L1.7,0.7M0.3,0.7L1.7,-0.7' : 'M-1,0L3,0M0.3,-0.8L1.8,0L0.3,0.8Z'"},"symbolFillColor":{"expr":"datum.value == 'r59-sca' ? '#ff1a1a' : datum.value == 'merge-sca' ? 'transparent' : '#85968e'"},"symbolDash":{"expr":"datum.value == 'merge-sca' ? [6,2,1.5,2] : datum.value == 'merge-sgd' ? [4,2] : [1,0]"}}},
"strokeDash":{"field":"series","type":"nominal","scale":{"domain":["r59-sca","merge-sca","merge-sgd"],"range":[[1,0],[9.6,2.4,1.5,2.4],[5.5,2.4]]},"legend":null}}},
{"transform":[{"filter":"datum.series == 'r59-sca' && datum.epoch % 2 == 0"}],"mark":{"type":"point","shape":"circle","filled":true,"color":"#ff1a1a","opacity":1,"size":64,"clip":true}},
{"transform":[{"filter":"datum.series == 'merge-sca' && datum.epoch % 2 == 0"}],"mark":{"type":"point","shape":"M-1,-1L1,1M-1,1L1,-1","filled":false,"stroke":"#1f3fff","strokeWidth":1.5,"opacity":1,"size":42,"clip":true}},
{"transform":[{"filter":"datum.series == 'merge-sgd' && datum.epoch % 2 == 0"}],"mark":{"type":"point","shape":"triangle-right","filled":true,"color":"#85968e","opacity":1,"size":64,"clip":true}}
]},
{"title":"IJCNN","width":291,"height":163,"data":{"name":"IJCNN"},
"encoding":{
"x":{"field":"epoch","type":"quantitative","scale":{"domain":[-2.45,51.45],"nice":false,"zero":false},"axis":{"values":[0,10,20,30,40,50],"title":"epochs"}},
"y":{"field":"acc","type":"quantitative","scale":{"domain":[95.99,98.86],"nice":false,"zero":false},"axis":{"values":[96,96.5,97,97.5,98,98.5],"format":".1f","title":"accuracy"}}},
"layer":[
{"mark":{"type":"line","strokeWidth":1.5,"clip":true},"encoding":{
"color":{"field":"series","type":"nominal","scale":{"domain":["r59-sca","merge-sca","merge-sgd"],"range":["#ff1a1a","#1f3fff","#85968e"]},"legend":{"labelExpr":"datum.label + ', B = 500'","symbolType":{"expr":"datum.value == 'r59-sca' ? 'M-1,0L3,0M1.8,0A0.8,0.8,0,1,1,0.2,0A0.8,0.8,0,1,1,1.8,0Z' : datum.value == 'merge-sca' ? 'M-1,0L3,0M0.3,-0.7L1.7,0.7M0.3,0.7L1.7,-0.7' : 'M-1,0L3,0M0.3,-0.8L1.8,0L0.3,0.8Z'"},"symbolFillColor":{"expr":"datum.value == 'r59-sca' ? '#ff1a1a' : datum.value == 'merge-sca' ? 'transparent' : '#85968e'"},"symbolDash":{"expr":"datum.value == 'merge-sca' ? [6,2,1.5,2] : datum.value == 'merge-sgd' ? [4,2] : [1,0]"}}},
"strokeDash":{"field":"series","type":"nominal","scale":{"domain":["r59-sca","merge-sca","merge-sgd"],"range":[[1,0],[9.6,2.4,1.5,2.4],[5.5,2.4]]},"legend":null}}},
{"transform":[{"filter":"datum.series == 'r59-sca' && datum.epoch % 2 == 0"}],"mark":{"type":"point","shape":"circle","filled":true,"color":"#ff1a1a","opacity":1,"size":64,"clip":true}},
{"transform":[{"filter":"datum.series == 'merge-sca' && datum.epoch % 2 == 0"}],"mark":{"type":"point","shape":"M-1,-1L1,1M-1,1L1,-1","filled":false,"stroke":"#1f3fff","strokeWidth":1.5,"opacity":1,"size":42,"clip":true}},
{"transform":[{"filter":"datum.series == 'merge-sgd' && datum.epoch % 2 == 0"}],"mark":{"type":"point","shape":"triangle-right","filled":true,"color":"#85968e","opacity":1,"size":64,"clip":true}}
]},
{"title":"ADULT","width":301,"height":162,"data":{"name":"ADULT"},
"encoding":{
"x":{"field":"epoch","type":"quantitative","scale":{"domain":[-2.45,51.45],"nice":false,"zero":false},"axis":{"values":[0,10,20,30,40,50],"title":"epochs"}},
"y":{"field":"acc","type":"quantitative","scale":{"domain":[55.0,86.0],"nice":false,"zero":false},"axis":{"values":[60,70,80],"title":"accuracy"}}},
"layer":[
{"mark":{"type":"line","strokeWidth":1.5,"clip":true},"encoding":{
"color":{"field":"series","type":"nominal","scale":{"domain":["r59-sca","merge-sca","merge-sgd"],"range":["#ff1a1a","#1f3fff","#85968e"]},"legend":{"labelExpr":"datum.label + ', B = 500'","symbolType":{"expr":"datum.value == 'r59-sca' ? 'M-1,0L3,0M1.8,0A0.8,0.8,0,1,1,0.2,0A0.8,0.8,0,1,1,1.8,0Z' : datum.value == 'merge-sca' ? 'M-1,0L3,0M0.3,-0.7L1.7,0.7M0.3,0.7L1.7,-0.7' : 'M-1,0L3,0M0.3,-0.8L1.8,0L0.3,0.8Z'"},"symbolFillColor":{"expr":"datum.value == 'r59-sca' ? '#ff1a1a' : datum.value == 'merge-sca' ? 'transparent' : '#85968e'"},"symbolDash":{"expr":"datum.value == 'merge-sca' ? [6,2,1.5,2] : datum.value == 'merge-sgd' ? [4,2] : [1,0]"}}},
"strokeDash":{"field":"series","type":"nominal","scale":{"domain":["r59-sca","merge-sca","merge-sgd"],"range":[[1,0],[9.6,2.4,1.5,2.4],[5.5,2.4]]},"legend":null}}},
{"transform":[{"filter":"datum.series == 'r59-sca' && datum.epoch % 2 == 0"}],"mark":{"type":"point","shape":"circle","filled":true,"color":"#ff1a1a","opacity":1,"size":64,"clip":true}},
{"transform":[{"filter":"datum.series == 'merge-sca' && datum.epoch % 2 == 0"}],"mark":{"type":"point","shape":"M-1,-1L1,1M-1,1L1,-1","filled":false,"stroke":"#1f3fff","strokeWidth":1.5,"opacity":1,"size":42,"clip":true}},
{"transform":[{"filter":"datum.series == 'merge-sgd' && datum.epoch % 2 == 0"}],"mark":{"type":"point","shape":"triangle-right","filled":true,"color":"#85968e","opacity":1,"size":64,"clip":true}}
]},
{"title":"COVTYPE","width":300,"height":162,"data":{"name":"COVTYPE"},
"encoding":{
"x":{"field":"epoch","type":"quantitative","scale":{"domain":[-2.45,51.45],"nice":false,"zero":false},"axis":{"values":[0,10,20,30,40,50],"title":"epochs"}},
"y":{"field":"acc","type":"quantitative","scale":{"domain":[54.9,80.9],"nice":false,"zero":false},"axis":{"values":[55,60,65,70,75,80],"title":"accuracy"}}},
"layer":[
{"mark":{"type":"line","strokeWidth":1.5,"clip":true},"encoding":{
"color":{"field":"series","type":"nominal","scale":{"domain":["r59-sca","merge-sca","merge-sgd"],"range":["#ff1a1a","#1f3fff","#85968e"]},"legend":{"labelExpr":"datum.label + ', B = 500'","symbolType":{"expr":"datum.value == 'r59-sca' ? 'M-1,0L3,0M1.8,0A0.8,0.8,0,1,1,0.2,0A0.8,0.8,0,1,1,1.8,0Z' : datum.value == 'merge-sca' ? 'M-1,0L3,0M0.3,-0.7L1.7,0.7M0.3,0.7L1.7,-0.7' : 'M-1,0L3,0M0.3,-0.8L1.8,0L0.3,0.8Z'"},"symbolFillColor":{"expr":"datum.value == 'r59-sca' ? '#ff1a1a' : datum.value == 'merge-sca' ? 'transparent' : '#85968e'"},"symbolDash":{"expr":"datum.value == 'merge-sca' ? [6,2,1.5,2] : datum.value == 'merge-sgd' ? [4,2] : [1,0]"}}},
"strokeDash":{"field":"series","type":"nominal","scale":{"domain":["r59-sca","merge-sca","merge-sgd"],"range":[[1,0],[9.6,2.4,1.5,2.4],[5.5,2.4]]},"legend":null}}},
{"transform":[{"filter":"datum.series == 'r59-sca' && datum.epoch % 2 == 0"}],"mark":{"type":"point","shape":"circle","filled":true,"color":"#ff1a1a","opacity":1,"size":64,"clip":true}},
{"transform":[{"filter":"datum.series == 'merge-sca' && datum.epoch % 2 == 0"}],"mark":{"type":"point","shape":"M-1,-1L1,1M-1,1L1,-1","filled":false,"stroke":"#1f3fff","strokeWidth":1.5,"opacity":1,"size":42,"clip":true}},
{"transform":[{"filter":"datum.series == 'merge-sgd' && datum.epoch % 2 == 0"}],"mark":{"type":"point","shape":"triangle-right","filled":true,"color":"#85968e","opacity":1,"size":64,"clip":true}}
]}
]
}
